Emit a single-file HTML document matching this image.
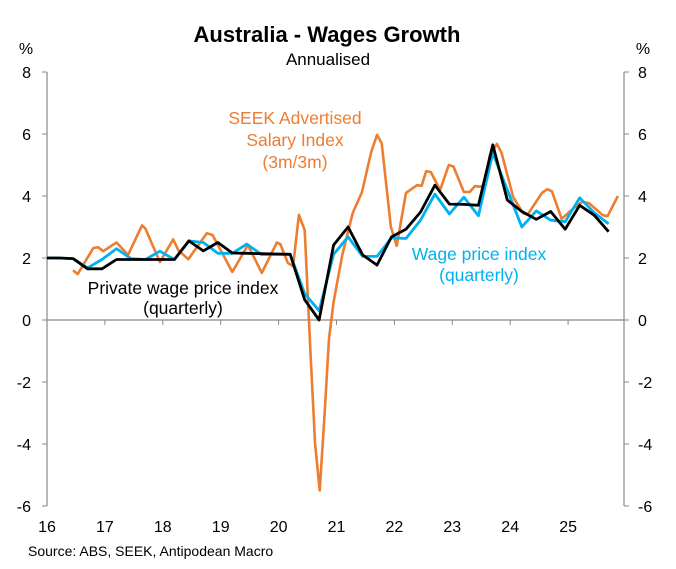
<!DOCTYPE html>
<html><head><meta charset="utf-8"><style>
body{margin:0;background:#fff}
svg{display:block;font-family:"Liberation Sans",Arial,sans-serif}
</style></head><body>
<svg id="c" width="676" height="569" viewBox="0 0 676 569">
<text x="327" y="42" text-anchor="middle" font-size="22" font-weight="bold">Australia - Wages Growth</text>
<text x="328" y="65" text-anchor="middle" font-size="17">Annualised</text>
<text x="26" y="54" text-anchor="middle" font-size="16">%</text>
<text x="643" y="54" text-anchor="middle" font-size="16">%</text>
<g id="axes"></g>
<defs><clipPath id="pc"><rect x="47" y="60" width="577" height="460"/></clipPath></defs>
<g id="series" clip-path="url(#pc)"></g>
<text x="295" y="124" text-anchor="middle" font-size="17.5" fill="#ED7D31">SEEK Advertised</text>
<text x="295" y="146" text-anchor="middle" font-size="17.5" fill="#ED7D31">Salary Index</text>
<text x="295" y="168" text-anchor="middle" font-size="17.5" fill="#ED7D31">(3m/3m)</text>
<text x="479" y="260" text-anchor="middle" font-size="17.5" fill="#00B0F0">Wage price index</text>
<text x="479" y="281" text-anchor="middle" font-size="17.5" fill="#00B0F0">(quarterly)</text>
<text x="183" y="294" text-anchor="middle" font-size="17.5" fill="#000">Private wage price index</text>
<text x="183" y="314" text-anchor="middle" font-size="17.5" fill="#000">(quarterly)</text>
<text x="28" y="556" font-size="14">Source: ABS, SEEK, Antipodean Macro</text>
</svg>
<script>
const yTicks=[8,6,4,2,0,-2,-4,-6];
const xTickLabels=["16","17","18","19","20","21","22","23","24","25"];
const qStart=15.95;
const privateWpi=[2.0,2.0,1.98,1.65,1.65,1.95,1.95,1.95,1.95,1.95,2.55,2.23,2.5,2.16,2.15,2.14,2.13,2.12,0.65,0,2.42,3.0,2.1,1.77,2.68,2.93,3.48,4.35,3.74,3.73,3.7,5.65,3.87,3.5,3.25,3.5,2.93,3.7,3.38,2.85];
const wpi=[2.0,2.0,1.98,1.68,1.95,2.3,1.98,1.95,2.22,1.95,2.55,2.5,2.15,2.15,2.45,2.12,2.12,2.12,0.85,0.3,2.12,2.68,2.05,2.05,2.65,2.63,3.22,4.06,3.42,3.96,3.36,5.38,4.2,3.0,3.52,3.22,3.17,3.94,3.46,3.1];
const seekDates=[16.45,16.53,16.8,16.88,16.97,17.2,17.4,17.64,17.7,17.95,18.18,18.27,18.44,18.76,18.86,19.2,19.47,19.71,19.97,20.03,20.16,20.25,20.35,20.45,20.55,20.63,20.71,20.79,20.87,20.95,21.1,21.28,21.44,21.6,21.7,21.78,21.94,22.04,22.2,22.39,22.47,22.55,22.63,22.79,22.94,23.02,23.2,23.3,23.39,23.48,23.55,23.65,23.77,23.85,24.05,24.22,24.3,24.55,24.64,24.72,24.89,25.08,25.24,25.36,25.6,25.68,25.86];
const seekValues=[1.6,1.48,2.32,2.35,2.22,2.5,2.1,3.05,2.95,1.87,2.6,2.25,1.96,2.8,2.74,1.55,2.42,1.52,2.5,2.45,1.84,1.74,3.39,2.9,-1.0,-4.0,-5.5,-3.2,-0.6,0.58,2.1,3.45,4.13,5.42,5.97,5.7,3.0,2.39,4.1,4.35,4.33,4.8,4.77,4.19,5.0,4.95,4.13,4.13,4.32,4.3,4.35,5.32,5.68,5.4,3.97,3.45,3.4,4.1,4.22,4.15,3.26,3.58,3.81,3.77,3.38,3.35,4.0];
const X0=47,X1=624,Y0=72,Y1=506;
const xs=t=>X0+(t-16)*57.9;
const ys=v=>Y1-(v+6)*(Y1-Y0)/14;
const NS="http://www.w3.org/2000/svg";
function mk(tag,attrs,parent){const e=document.createElementNS(NS,tag);for(const k in attrs)e.setAttribute(k,attrs[k]);parent.appendChild(e);return e;}
const ax=document.getElementById('axes');
let e=mk('line',{x1:X0,y1:Y0,x2:X0,y2:Y1,stroke:'#888','stroke-width':1.2},ax);


e=mk('line',{x1:X1,y1:Y0,x2:X1,y2:Y1,stroke:'#888','stroke-width':1.2},ax);


e=mk('line',{x1:X0,y1:ys(0),x2:X1,y2:ys(0),stroke:'#888','stroke-width':1.2},ax);


yTicks.forEach(v=>{
 const y=ys(v);
 mk('line',{x1:X0-5,y1:y,x2:X0,y2:y,stroke:'#888'},ax);
 mk('line',{x1:X1,y1:y,x2:X1+5,y2:y,stroke:'#888'},ax);
 let t=mk('text',{x:31,y:y+6,'text-anchor':'end','font-size':16},ax);t.textContent=v;
 
 
 t=mk('text',{x:638,y:y+6,'text-anchor':'start','font-size':16},ax);t.textContent=v;
 
 
});
xTickLabels.forEach((l,i)=>{
 const x=xs(16+i);
 if(i>0)mk('line',{x1:x,y1:ys(0),x2:x,y2:ys(0)+5,stroke:'#888'},ax);
 const t=mk('text',{x:x,y:532,'text-anchor':'middle','font-size':16},ax);t.textContent=l;
 
 
});
const sg=document.getElementById('series');
function line(pts,color,w,name){
 const p=mk('polyline',{points:pts.map(q=>q[0].toFixed(1)+','+q[1].toFixed(1)).join(' '),fill:'none',stroke:color,'stroke-width':w,'stroke-linejoin':'round'},sg);
 
 
}
line(seekDates.map((d,i)=>[xs(d),ys(seekValues[i])]),'#ED7D31',2.6,'seek-line');
line(wpi.map((v,i)=>[xs(qStart+0.25*i),ys(v)]),'#00B0F0',2.8,'wpi-line');
line(privateWpi.map((v,i)=>[xs(qStart+0.25*i),ys(v)]),'#000',2.8,'private-wpi-line');
</script>
</body></html>
